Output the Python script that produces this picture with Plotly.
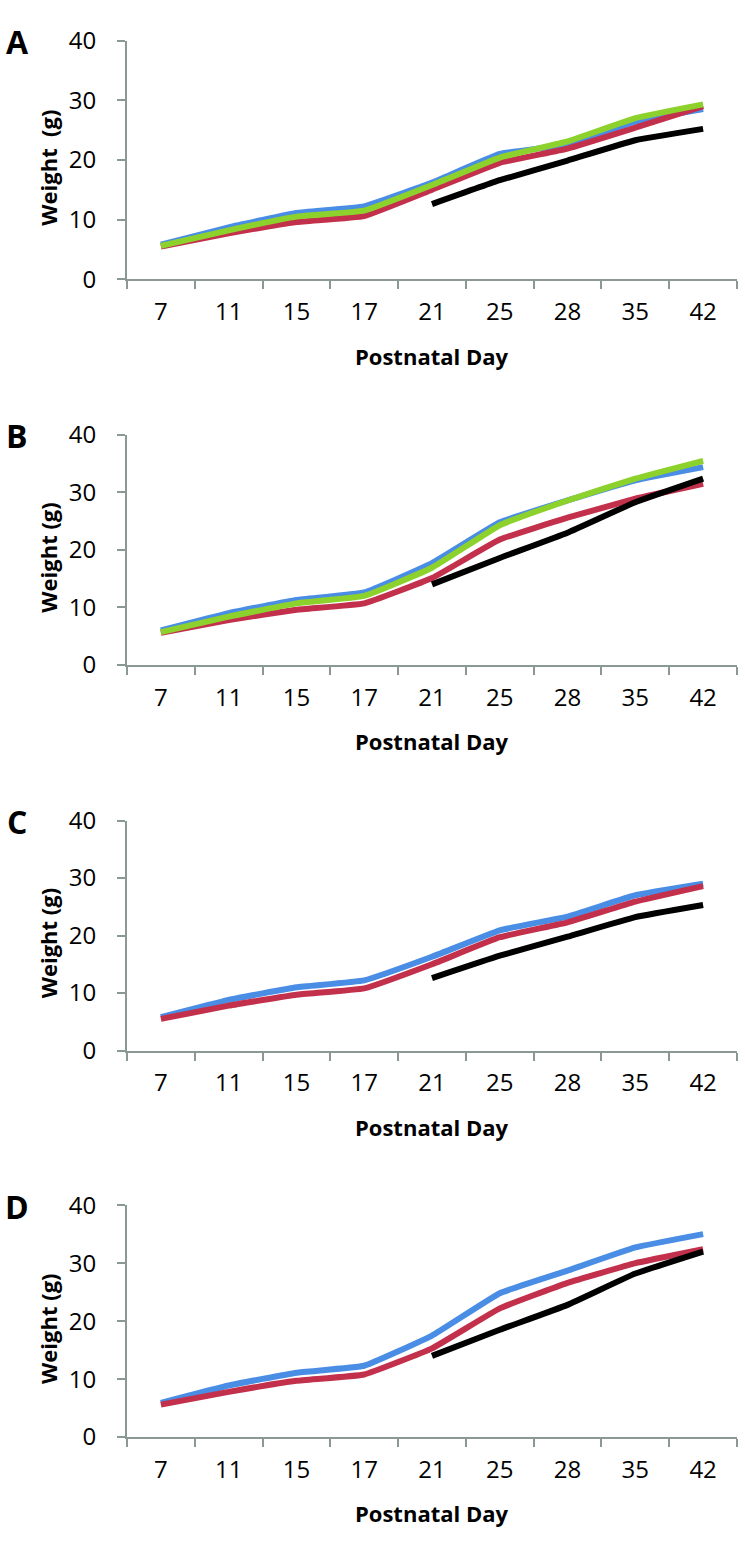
import plotly.graph_objects as go
from plotly.subplots import make_subplots

# DATA (weight in g by postnatal day)

days = ["7", "11", "15", "17", "21", "25", "28", "35", "42"]

blue_a = [5.8, 8.7, 11.1, 12.2, 16.2, 21.0, 22.6, 26.4, 28.5]
red_a = [5.5, 7.7, 9.6, 10.6, 15.0, 19.5, 21.9, 25.4, 29.0]
green_a = [5.6, 8.2, 10.5, 11.5, 15.8, 20.4, 23.1, 27.0, 29.3]
black_a = [None, None, None, None, 12.6, 16.6, 19.9, 23.3, 25.2]

blue_b = [6.0, 9.0, 11.3, 12.6, 17.7, 24.8, 28.6, 32.1, 34.4]
red_b = [5.6, 7.8, 9.6, 10.7, 15.1, 21.8, 25.6, 28.9, 31.5]
green_b = [5.7, 8.4, 10.7, 12.0, 16.9, 24.3, 28.6, 32.4, 35.5]
black_b = [None, None, None, None, 14.0, 18.6, 23.0, 28.3, 32.4]

blue_c = [5.8, 8.8, 11.0, 12.2, 16.3, 20.9, 23.3, 27.0, 29.0]
red_c = [5.5, 7.8, 9.7, 10.8, 15.0, 19.7, 22.3, 25.9, 28.6]
black_c = [None, None, None, None, 12.6, 16.5, 19.8, 23.2, 25.3]

blue_d = [5.9, 8.9, 11.1, 12.3, 17.5, 24.8, 28.7, 32.7, 35.0]
red_d = [5.6, 7.8, 9.7, 10.8, 15.3, 22.2, 26.6, 30.0, 32.4]
black_d = [None, None, None, None, 14.0, 18.5, 22.8, 28.2, 32.0]

panel_labels = ["A", "B", "C", "D"]
y_titles = ["Weight\u00a0\u00a0(g)", "Weight (g)", "Weight (g)", "Weight (g)"]
x_title = "Postnatal Day"

BLUE = "#4A8DE4"
RED = "#C2304C"
GREEN = "#8DD22C"
BLACK = "#000000"
AXIS = "#8A9896"

panels = [
    [(blue_a, BLUE), (red_a, RED), (green_a, GREEN), (black_a, BLACK)],
    [(blue_b, BLUE), (red_b, RED), (green_b, GREEN), (black_b, BLACK)],
    [(blue_c, BLUE), (red_c, RED), (black_c, BLACK)],
    [(blue_d, BLUE), (red_d, RED), (black_d, BLACK)],
]

W, H = 745, 1548
x0, x1 = 127, 737
# (top, bottom) pixel positions of each plot area
rows_px = [(23, 267), (426, 661), (820, 1055), (1213, 1450)]

fig = make_subplots(rows=4, cols=1)

for i, series in enumerate(panels):
    for vals, col in series:
        fig.add_trace(go.Scatter(
            x=days, y=vals, mode="lines",
            line=dict(color=col, width=6, shape="spline", smoothing=0.3),
            connectgaps=False, showlegend=False, hoverinfo="skip"
        ), row=i + 1, col=1)

font_ticks = dict(family="Open Sans", size=24, color="#000000")

for i, (top, bot) in enumerate(rows_px):
    dom_y = [1 - bot / H, 1 - top / H]
    n = "" if i == 0 else str(i + 1)
    fig.layout["xaxis" + n].update(
        domain=[x0 / W, x1 / W], type="category", range=[-0.5, 8.5],
        showline=True, linecolor=AXIS, linewidth=2,
        ticks="outside", tickson="boundaries", ticklen=8, tickwidth=2, tickcolor=AXIS,
        showgrid=False, zeroline=False, tickfont=font_ticks, ticklabelstandoff=10,
    )
    fig.layout["yaxis" + n].update(
        domain=dom_y, range=[0, 40], tickvals=[0, 10, 20, 30, 40],
        showline=True, linecolor=AXIS, linewidth=2,
        ticks="outside", ticklen=8, tickwidth=2, tickcolor=AXIS,
        showgrid=False, zeroline=False, tickfont=font_ticks, ticklabelstandoff=16,
    )
    # panel letter
    fig.add_annotation(
        text="<b>" + panel_labels[i] + "</b>", x=17 / W, y=1 - (top + 1) / H,
        xref="paper", yref="paper", showarrow=False,
        font=dict(family="Open Sans", size=32, color="#000000"),
        xanchor="center", yanchor="middle",
    )
    # y title
    fig.add_annotation(
        text="<b>" + y_titles[i] + "</b>", x=48 / W, y=1 - ((top + bot) / 2 + 8) / H,
        xref="paper", yref="paper", showarrow=False, textangle=-90,
        font=dict(family="Open Sans", size=22, color="#000000"),
        xanchor="center", yanchor="middle",
    )
    # x title
    fig.add_annotation(
        text="<b>" + x_title + "</b>", x=(x0 + x1) / 2 / W, y=1 - (bot + 78) / H,
        xref="paper", yref="paper", showarrow=False,
        font=dict(family="Open Sans", size=22, color="#000000"),
        xanchor="center", yanchor="middle",
    )

fig.update_layout(
    width=W, height=H,
    margin=dict(l=0, r=0, t=0, b=0),
    paper_bgcolor="white", plot_bgcolor="white",
)

# the page body has a default 8px margin; drop it so the figure sits at 0,0
fig.write_html("out.html", config={"displayModeBar": False},
               post_script="document.body.style.margin='0';")
